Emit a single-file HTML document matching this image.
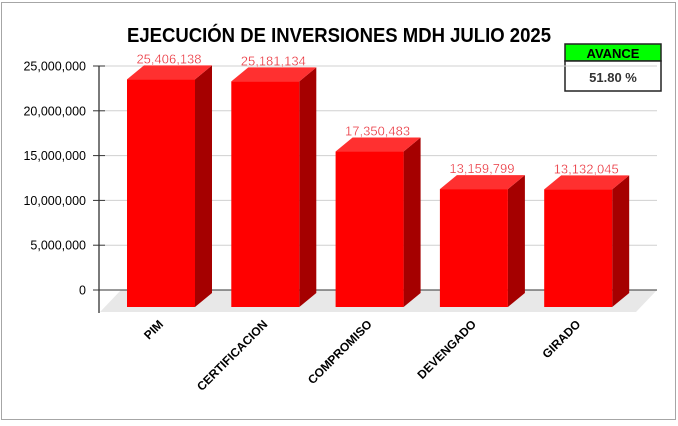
<!DOCTYPE html>
<html><head><meta charset="utf-8"><style>
body{margin:0;background:#fff;width:678px;height:421px;overflow:hidden;font-family:"Liberation Sans",sans-serif}
</style></head><body>
<svg width="678" height="421">
<rect x="1.5" y="2.5" width="674" height="417" fill="#fff" stroke="#a6a6a6"/>
<text x="339" y="42" text-anchor="middle" font-size="20" font-weight="bold" fill="#000" textLength="424" lengthAdjust="spacingAndGlyphs">EJECUCIÓN DE INVERSIONES MDH JULIO 2025</text>
<g>
<rect x="565" y="44" width="96" height="17" fill="#00ff00" stroke="#222" stroke-width="1.5"/>
<rect x="565" y="61" width="96" height="30" fill="#fff" stroke="#222" stroke-width="1.5"/>
<text x="613" y="58" text-anchor="middle" font-size="13" font-weight="bold">AVANCE</text>
<text x="613" y="82" text-anchor="middle" font-size="13" font-weight="bold" fill="#333">51.80 %</text>
</g>
<g id="plot"></g>
</svg>
<script>
const categories=["PIM","CERTIFICACION","COMPROMISO","DEVENGADO","GIRADO"];
const values=[25406138,25181134,17350483,13159799,13132045];
const ticks=[0,5000000,10000000,15000000,20000000,25000000];
const ns="http://www.w3.org/2000/svg";
const g=document.getElementById("plot");
const y0=290, pxPer=224/25000000, dx=17, dy=17;
function yv(v){return y0-v*pxPer;}
function xc(i){return 161+i*104.3;}
function mk(t,a,p){const e=document.createElementNS(ns,t);for(const k in a)e.setAttribute(k,a[k]);(p||g).appendChild(e);return e;}
// gridlines
ticks.forEach(t=>{
 const l=mk("line",{x1:105,x2:657,y1:yv(t),y2:yv(t),stroke:t===0?"#333":"#d0d0d0","stroke-width":1});
 
 
});
const floor=mk("polygon",{points:"100,312 636,312 657,290 121,290",fill:"#e8e8e8"});


mk("line",{x1:105,x2:657,y1:290,y2:290,stroke:"#333"});
const ax=mk("line",{x1:99,x2:99,y1:66,y2:313,stroke:"#333","stroke-width":1.3});


ticks.forEach(t=>{
 mk("line",{x1:93,x2:105,y1:yv(t),y2:yv(t),stroke:"#333"});
 const tx=mk("text",{x:86,y:yv(t)+4.5,"text-anchor":"end","font-size":12.5,fill:"#000"});
 tx.textContent=t.toLocaleString("en-US");
 
 
});
values.forEach((v,i)=>{
 const bw=68, x=xc(i)-bw/2, yb=307, yt=yb-v*pxPer;
 const bg=mk("g",{});
 
 
 mk("polygon",{points:`${x+bw},${yt} ${x+bw+dx},${yt-dy+3} ${x+bw+dx},${yb-dy+3} ${x+bw},${yb}`,fill:"#a50000"},bg);
 mk("polygon",{points:`${x},${yt} ${x+dx},${yt-dy+3} ${x+bw+dx},${yt-dy+3} ${x+bw},${yt}`,fill:"#ff3030"},bg);
 mk("rect",{x:x,y:yt,width:bw,height:yb-yt,fill:"#ff0000"},bg);
 const lb=mk("text",{x:x+bw/2+8,y:yt-16,"text-anchor":"middle","font-size":13,fill:"#e8202a",stroke:"#fff","stroke-width":0.3});
 lb.textContent=v.toLocaleString("en-US");
 
 
 const cl=mk("text",{x:0,y:0,"text-anchor":"end","font-size":12,"font-weight":"bold",transform:`translate(${xc(i)+3},${325}) rotate(-45)`});
 cl.textContent=categories[i];
 
 
});
</script>
</body></html>
